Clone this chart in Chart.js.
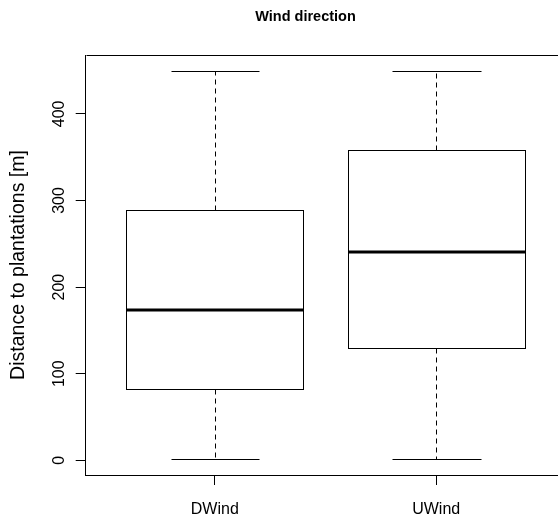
<!DOCTYPE html>
<html>
<head>
<meta charset="utf-8">
<script src="https://cdn.jsdelivr.net/npm/chart.js@4.4.0/dist/chart.umd.min.js"></script>
<style>
  html, body { margin: 0; padding: 0; background: #fff; overflow: hidden; }
  #wrap { width: 558px; height: 522px; position: relative; }
</style>
</head>
<body>
<div id="wrap"><canvas id="chart"></canvas></div>
<script>
// box plot summary per group
const categories = ['DWind', 'UWind'];
const whiskerLow = [1, 1];
const quartile1 = [82, 130];
const medians = [174, 240];
const quartile3 = [289, 358];
const whiskerHigh = [450, 450];
const yTicks = [0, 100, 200, 300, 400];

const chartTitle = 'Wind direction';
const yTitle = 'Distance to plantations [m]';
const family = '"Liberation Sans", Arial, sans-serif';

const crisp = v => Math.round(v) + 0.5;

// draws boxes, medians, whiskers and the frame through the chart's scales
const boxPlot = {
  id: 'boxPlot',
  afterDatasetsDraw(chart) {
    const { ctx, chartArea, scales: { x, y } } = chart;
    ctx.save();
    ctx.strokeStyle = '#000';
    categories.forEach((cat, i) => {
      const pos = i + 1;
      const left = crisp(x.getPixelForValue(pos - 0.4));
      const right = crisp(x.getPixelForValue(pos + 0.4));
      const capL = crisp(x.getPixelForValue(pos - 0.2));
      const capR = crisp(x.getPixelForValue(pos + 0.2));
      const cx = crisp(x.getPixelForValue(pos));
      const yLo = crisp(y.getPixelForValue(whiskerLow[i]));
      const yQ1 = crisp(y.getPixelForValue(quartile1[i]));
      const yMed = Math.round(y.getPixelForValue(medians[i]));
      const yQ3 = crisp(y.getPixelForValue(quartile3[i]));
      const yHi = crisp(y.getPixelForValue(whiskerHigh[i]));

      // dashed whiskers
      ctx.lineWidth = 1;
      ctx.setLineDash([5, 4]);
      ctx.beginPath();
      ctx.moveTo(cx, yQ3); ctx.lineTo(cx, yHi);
      ctx.moveTo(cx, yQ1); ctx.lineTo(cx, yLo);
      ctx.stroke();
      ctx.setLineDash([]);

      // caps
      ctx.beginPath();
      ctx.moveTo(capL, yHi); ctx.lineTo(capR, yHi);
      ctx.moveTo(capL, yLo); ctx.lineTo(capR, yLo);
      ctx.stroke();

      // box
      ctx.fillStyle = '#fff';
      ctx.fillRect(left, yQ3, right - left, yQ1 - yQ3);
      ctx.strokeRect(left, yQ3, right - left, yQ1 - yQ3);

      // median
      ctx.lineWidth = 3;
      ctx.beginPath();
      ctx.moveTo(left, yMed); ctx.lineTo(right, yMed);
      ctx.stroke();
    });

    // top of the frame (right side falls outside the picture)
    ctx.lineWidth = 1;
    ctx.beginPath();
    ctx.moveTo(crisp(chartArea.left), crisp(chartArea.top));
    ctx.lineTo(chartArea.right + 5, crisp(chartArea.top));
    ctx.stroke();

    // main title
    ctx.fillStyle = '#000';
    ctx.font = 'bold 14.5px ' + family;
    ctx.textAlign = 'center';
    ctx.textBaseline = 'middle';
    ctx.fillText(chartTitle, 305.5, 16.5);
    ctx.restore();
  }
};

new Chart(document.getElementById('chart'), {
  type: 'scatter',
  data: {
    datasets: [{
      data: medians.map((m, i) => ({ x: i + 1, y: m })),
      pointRadius: 0,
      showLine: false
    }]
  },
  options: {
    responsive: true,
    maintainAspectRatio: false,
    animation: false,
    events: [],
    layout: { padding: { top: 55, left: 0, right: 0, bottom: 0 } },
    plugins: {
      legend: { display: false },
      tooltip: { enabled: false },
      title: { display: false }
    },
    scales: {
      x: {
        type: 'linear',
        min: 0.417,
        max: 2.55,
        afterBuildTicks: s => { s.ticks = categories.map((c, i) => ({ value: i + 1 })); },
        afterFit: s => { s.height = 47; },
        border: { color: '#000', width: 1 },
        grid: { drawOnChartArea: false, color: '#000', tickLength: 10 },
        ticks: {
          color: '#000',
          font: { family, size: 16 },
          padding: 15,
          maxRotation: 0,
          callback: v => categories[v - 1] ?? ''
        }
      },
      y: {
        type: 'linear',
        min: -17,
        max: 468,
        afterBuildTicks: s => { s.ticks = yTicks.map(v => ({ value: v })); },
        afterFit: s => { s.width = 85.7; },
        border: { color: '#000', width: 1 },
        grid: { drawOnChartArea: false, color: '#000', tickLength: 10 },
        ticks: {
          color: '#000',
          font: { family, size: 16 },
          minRotation: 90,
          maxRotation: 90,
          crossAlign: 'center',
          padding: 3
        },
        title: {
          display: true,
          text: yTitle,
          color: '#000',
          font: { family, size: 19.5 },
          padding: { top: 7, bottom: 0 }
        }
      }
    }
  },
  plugins: [boxPlot]
});
</script>
</body>
</html>
